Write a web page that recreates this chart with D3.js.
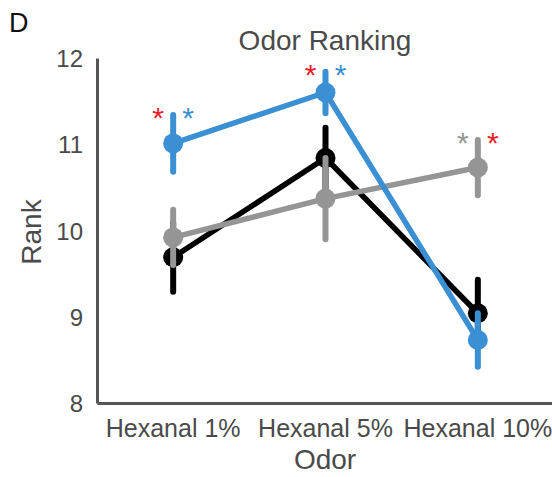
<!DOCTYPE html>
<html>
<head>
<meta charset="utf-8">
<script src="https://cdn.jsdelivr.net/npm/d3@7"></script>
<style>
  html, body { margin: 0; padding: 0; background: #fff; }
  svg { display: block; font-family: "Liberation Sans", Arial, sans-serif; }
</style>
</head>
<body>
<svg id="chart" width="552" height="477"></svg>
<script>
// Odor ranking: mean rank ± error per odor concentration, three groups
const odors = ["Hexanal 1%", "Hexanal 5%", "Hexanal 10%"];
const yTicks = [8, 9, 10, 11, 12];

const blackMean = [9.69, 10.84, 9.04];
const blackErr  = [0.40, 0.35, 0.39];
const grayMean  = [9.92, 10.37, 10.73];
const grayErr   = [0.32, 0.47, 0.32];
const blueMean  = [11.01, 11.60, 8.73];
const blueErr   = [0.33, 0.24, 0.31];

// significance asterisks: odor, colour key, side of the point
const sigOdor  = ["Hexanal 1%", "Hexanal 1%", "Hexanal 5%", "Hexanal 5%", "Hexanal 10%", "Hexanal 10%"];
const sigColor = ["red", "blue", "red", "blue", "gray", "red"];
const sigSide  = [-1, 1, -1, 1, -1, 1];

const colors = { black: "#000000", gray: "#959595", blue: "#3b8fd3", red: "#e8202a" };

const series = [
  { key: "black", mean: blackMean, err: blackErr },
  { key: "gray",  mean: grayMean,  err: grayErr },
  { key: "blue",  mean: blueMean,  err: blueErr }
];

const svg = d3.select("#chart");
const axisColor = "#555555";
const textColor = "#4a4a4a";

const x = d3.scaleBand().domain(odors).range([97, 554]);
const y = d3.scaleLinear().domain([8, 12]).range([403, 58]);
const cx = d => x(d) + x.bandwidth() / 2;

// axes
const yAxis = svg.append("g").attr("transform", "translate(97,0)")
  .call(d3.axisLeft(y).tickValues(yTicks).tickSize(0).tickPadding(14).tickFormat(d3.format("d")));
const xAxis = svg.append("g").attr("transform", "translate(0,403)")
  .call(d3.axisBottom(x).tickSize(0).tickPadding(10));

[yAxis, xAxis].forEach(g => {
  g.select(".domain").attr("stroke", axisColor).attr("stroke-width", 3);
  g.selectAll("text").attr("fill", textColor)
    .style("font-family", "'Liberation Sans', Arial, sans-serif");
});
yAxis.selectAll("text").style("font-size", "24px").attr("dy", "0.36em");
xAxis.selectAll("text").style("font-size", "25px").attr("dy", "0.95em");

// labels
svg.append("text").attr("x", 325).attr("y", 50).attr("text-anchor", "middle")
  .attr("fill", textColor).style("font-size", "28px").text("Odor Ranking");
svg.append("text").attr("x", 9).attr("y", 32)
  .attr("fill", "#111").style("font-size", "27px").text("D");
svg.append("text").attr("transform", "translate(41,232) rotate(-90)").attr("text-anchor", "middle")
  .attr("fill", textColor).style("font-size", "28px").text("Rank");
svg.append("text").attr("x", 325).attr("y", 469).attr("text-anchor", "middle")
  .attr("fill", textColor).style("font-size", "28px").text("Odor");

// series: line, error bars, markers
const line = d3.line().x(d => cx(d.odor)).y(d => y(d.v));
series.forEach(s => {
  const pts = odors.map((o, i) => ({ odor: o, v: s.mean[i], e: s.err[i] }));
  const g = svg.append("g");
  g.append("path").datum(pts).attr("d", line)
    .attr("fill", "none").attr("stroke", colors[s.key]).attr("stroke-width", 5.5)
    .attr("stroke-linejoin", "round");
  g.selectAll("line.err").data(pts).join("line").attr("class", "err")
    .attr("x1", d => cx(d.odor)).attr("x2", d => cx(d.odor))
    .attr("y1", d => y(d.v - d.e)).attr("y2", d => y(d.v + d.e))
    .attr("stroke", colors[s.key]).attr("stroke-width", 6).attr("stroke-linecap", "round");
  g.selectAll("circle").data(pts).join("circle")
    .attr("cx", d => cx(d.odor)).attr("cy", d => y(d.v)).attr("r", 10)
    .attr("fill", colors[s.key]);
});

// asterisks above the highest error bar at each odor
const topAt = o => {
  const i = odors.indexOf(o);
  return d3.max(series, s => s.mean[i] + s.err[i]);
};
svg.selectAll("text.sig").data(sigOdor.map((o, i) => ({ odor: o, c: sigColor[i], side: sigSide[i] })))
  .join("text").attr("class", "sig")
  .attr("x", d => cx(d.odor) + d.side * 15)
  .attr("y", d => y(topAt(d.odor)) - 4 + 17)
  .attr("text-anchor", "middle")
  .attr("fill", d => colors[d.c])
  .style("font-size", "30px")
  .text("*");
</script>
</body>
</html>
